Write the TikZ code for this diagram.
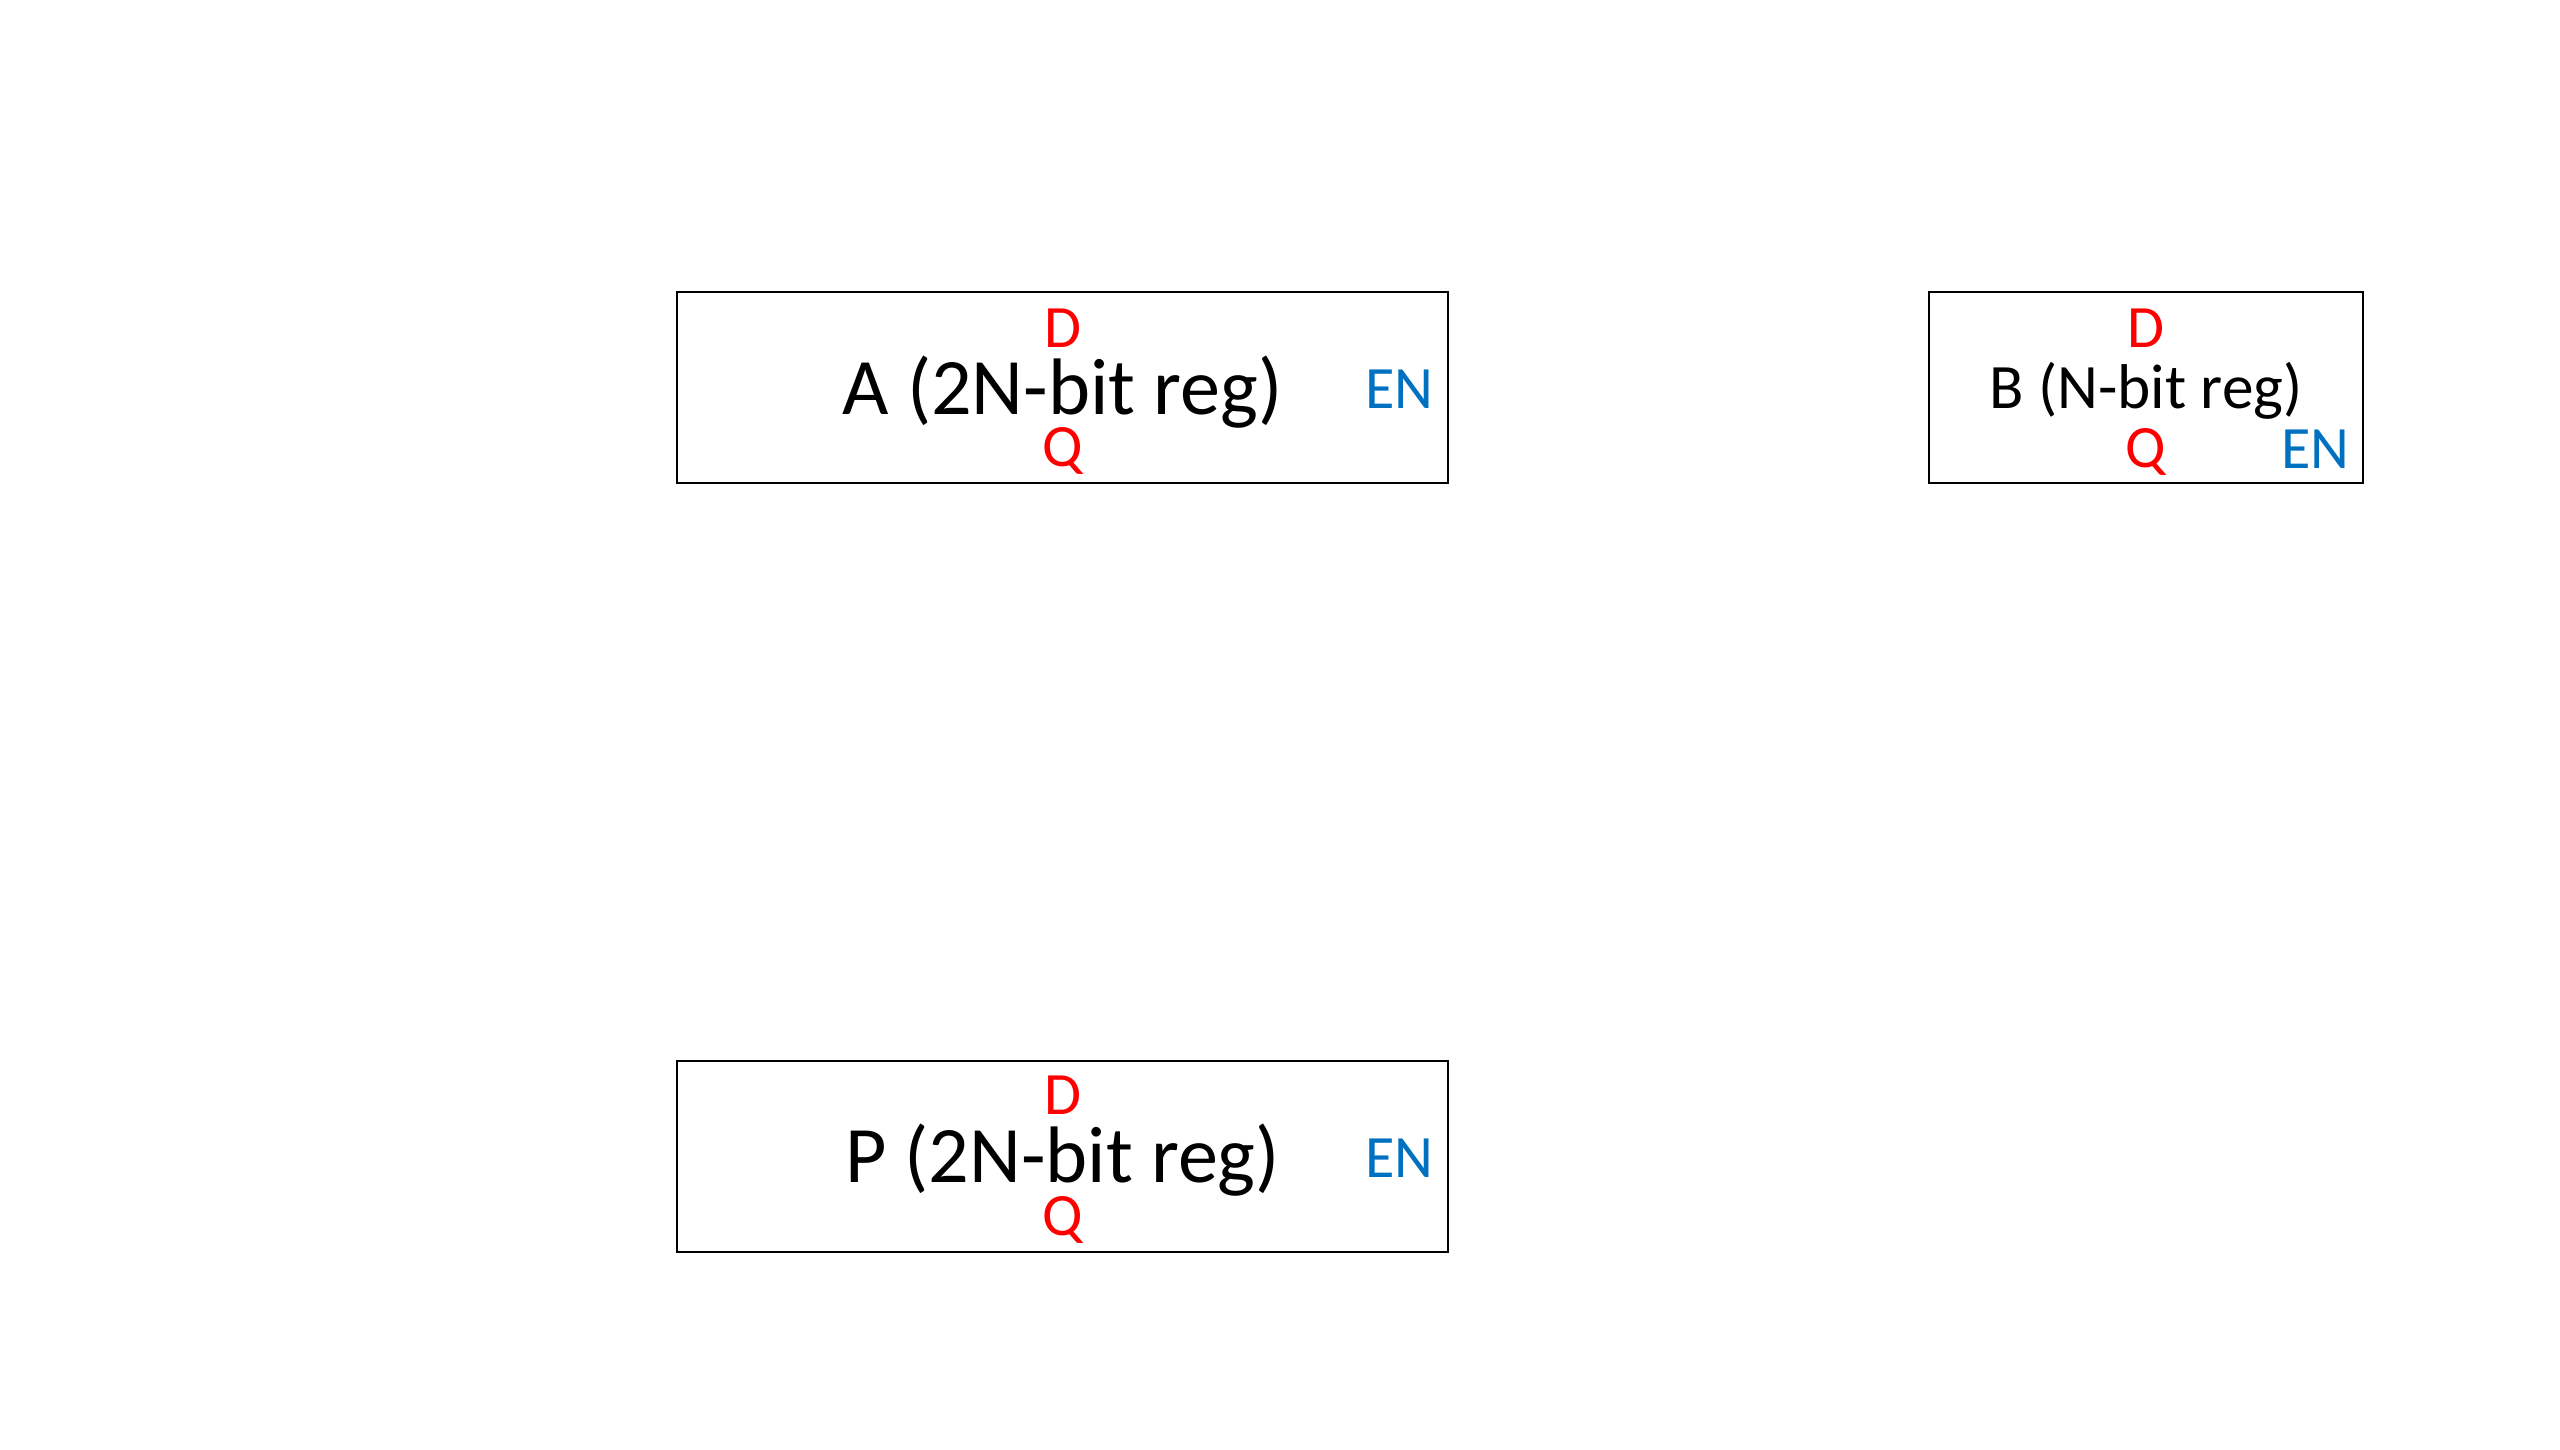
\documentclass[tikz,border=0pt]{standalone}
\usepackage{fontspec}
\setmainfont{Carlito}
\usepackage{tikz}

\definecolor{pinred}{HTML}{FF0000}
\definecolor{enblue}{HTML}{0070C0}

\begin{document}
\begin{tikzpicture}[
  reg/.style={draw, line width=0.57pt, minimum height=1.91cm, inner sep=0pt},
  regtext/.style={anchor=base, inner sep=0pt},
  pin/.style={text=pinred, anchor=base, inner sep=0pt, font=\fontsize{17.1}{17.1}\selectfont},
  enpin/.style={text=enblue, anchor=base east, inner sep=0pt, font=\fontsize{17.1}{17.1}\selectfont}]
\useasboundingbox (0,0) rectangle (25.6,-14.5);

% A register
\node[name=reg_A, reg, minimum width=7.71cm] at (10.625,-3.875) {};
\node[name=reg_A_text, regtext, font=\fontsize{22.8}{22.8}\selectfont] at ([yshift=-2.75mm]reg_A.center) {A (2N-bit reg)};
\node[name=reg_A_D, pin] at ([yshift=4.0mm]reg_A.center) {D};
\node[name=reg_A_Q, pin] at ([yshift=-7.9mm]reg_A.center) {Q};
\node[name=reg_A_EN, enpin] at ([xshift=-1.5mm, yshift=-2.1mm]reg_A.east) {EN};

% B register
\node[name=reg_B, reg, minimum width=4.34cm] at (21.46,-3.875) {};
\node[name=reg_B_text, regtext, font=\fontsize{18}{18}\selectfont] at ([yshift=-2.1mm]reg_B.center) {B (N-bit reg)};
\node[name=reg_B_D, pin] at ([yshift=3.95mm]reg_B.center) {D};
\node[name=reg_B_Q, pin] at ([yshift=-8.0mm]reg_B.center) {Q};
\node[name=reg_B_EN, enpin] at ([xshift=-1.4mm, yshift=-8.1mm]reg_B.east) {EN};

% P register
\node[name=reg_P, reg, minimum width=7.71cm] at (10.625,-11.565) {};
\node[name=reg_P_text, regtext, font=\fontsize{22.8}{22.8}\selectfont] at ([yshift=-2.6mm]reg_P.center) {P (2N-bit reg)};
\node[name=reg_P_D, pin] at ([yshift=4.2mm]reg_P.center) {D};
\node[name=reg_P_Q, pin] at ([yshift=-7.9mm]reg_P.center) {Q};
\node[name=reg_P_EN, enpin] at ([xshift=-1.5mm, yshift=-2.1mm]reg_P.east) {EN};
\end{tikzpicture}
\end{document}
